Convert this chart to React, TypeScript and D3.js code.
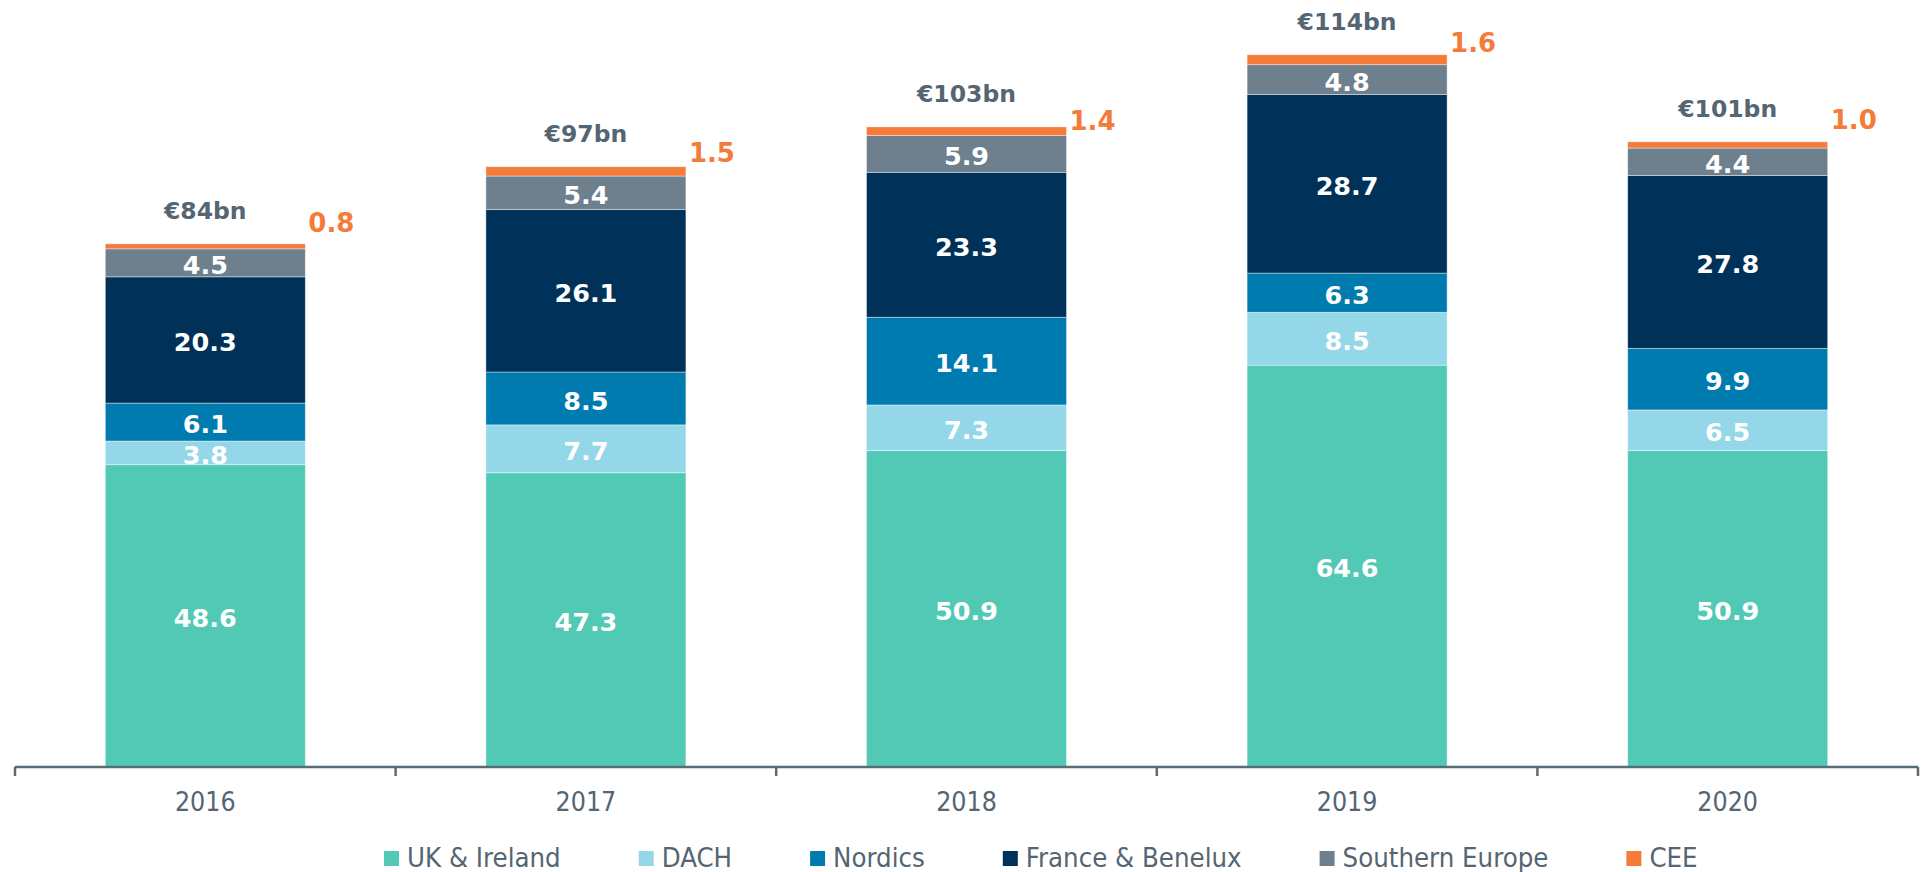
import React, { useEffect, useRef } from "react";
import * as d3 from "d3";

const years = ["2016", "2017", "2018", "2019", "2020"];
const seriesNames = ["UK & Ireland", "DACH", "Nordics", "France & Benelux", "Southern Europe", "CEE"];
const ukIreland = [48.6, 47.3, 50.9, 64.6, 50.9];
const dach = [3.8, 7.7, 7.3, 8.5, 6.5];
const nordics = [6.1, 8.5, 14.1, 6.3, 9.9];
const franceBenelux = [20.3, 26.1, 23.3, 28.7, 27.8];
const southernEurope = [4.5, 5.4, 5.9, 4.8, 4.4];
const cee = [0.8, 1.5, 1.4, 1.6, 1.0];
const totalLabels = ["€84bn", "€97bn", "€103bn", "€114bn", "€101bn"];
// label nudges for the CEE callouts (baseline distance above bar top)
const ceeLabelLift = [12, 4.5, -2.7, 2.5, 13];

const colors = ["#52c9b5", "#93d7e8", "#007bb0", "#003259", "#6e7f8e", "#f47b3a"];
const textGray = "#546573";

export default function App() {
  const ref = useRef<SVGSVGElement>(null);

  useEffect(() => {
    const svg = d3.select(ref.current);
    svg.selectAll("*").remove();

    const axisY = 767;
    const x = d3.scaleBand<string>().domain(years).range([15, 1918]).paddingInner(0.4745).paddingOuter(0.4745 / 2);
    const y = d3.scaleLinear().domain([0, 123.3]).range([axisY, 0]);

    const seriesData = [ukIreland, dach, nordics, franceBenelux, southernEurope, cee];
    const table = years.map((yr, i) => {
      const o: any = { year: yr };
      seriesNames.forEach((s, k) => (o[s] = seriesData[k][i]));
      return o;
    });
    const stack = d3.stack<any>().keys(seriesNames)(table);

    const boldFont = "'DejaVu Sans', Verdana, sans-serif";
    const condFont = "'DejaVu Sans Condensed', 'DejaVu Sans', sans-serif";

    const g = svg.append("g");
    stack.forEach((layer, k) => {
      const lg = g.append("g");
      lg.selectAll("rect")
        .data(layer)
        .join("rect")
        .attr("x", (d: any) => x(d.data.year)!)
        .attr("width", x.bandwidth())
        .attr("y", (d: any) => y(d[1]))
        .attr("height", (d: any) => y(d[0]) - y(d[1]))
        .attr("fill", colors[k])
        .attr("stroke", "#ffffff")
        .attr("stroke-opacity", 0.5)
        .attr("stroke-width", 0.8);

      if (k < 5) {
        lg.selectAll("text")
          .data(layer)
          .join("text")
          .attr("x", (d: any) => x(d.data.year)! + x.bandwidth() / 2)
          .attr("y", (d: any) => (y(d[0]) + y(d[1])) / 2 + 2)
          .attr("dy", "0.36em")
          .attr("text-anchor", "middle")
          .attr("fill", "#ffffff")
          .attr("font-family", boldFont)
          .attr("font-weight", "bold")
          .attr("font-size", 25.5)
          .text((d: any) => (d[1] - d[0]).toFixed(1));
      } else {
        lg.selectAll("text")
          .data(layer)
          .join("text")
          .attr("x", (d: any) => x(d.data.year)! + x.bandwidth() + 3)
          .attr("y", (d: any, i: number) => y(d[1]) - ceeLabelLift[i])
          .attr("text-anchor", "start")
          .attr("fill", colors[5])
          .attr("font-family", boldFont)
          .attr("font-weight", "bold")
          .attr("font-size", 26)
          .text((d: any) => (d[1] - d[0]).toFixed(1));
      }
    });

    // totals
    const top = stack[stack.length - 1];
    g.append("g")
      .selectAll("text")
      .data(top)
      .join("text")
      .attr("x", (d: any) => x(d.data.year)! + x.bandwidth() / 2)
      .attr("y", (d: any) => y(d[1]) - 24.5)
      .attr("text-anchor", "middle")
      .attr("fill", textGray)
      .attr("font-family", boldFont)
      .attr("font-weight", "bold")
      .attr("font-size", 23.5)
      .text((_d: any, i: number) => totalLabels[i]);

    // axis
    const ax = svg.append("g");
    const [r0, r1] = x.range();
    ax.append("line")
      .attr("x1", r0).attr("x2", r1)
      .attr("y1", axisY).attr("y2", axisY)
      .attr("stroke", "#5a6b78").attr("stroke-width", 2.5);
    const boundaries = years.map((_, i) => r0 + i * x.step()).concat([r1]);
    ax.selectAll("line.tick")
      .data(boundaries)
      .join("line")
      .attr("class", "tick")
      .attr("x1", (d) => d).attr("x2", (d) => d)
      .attr("y1", axisY).attr("y2", axisY + 9)
      .attr("stroke", "#5a6b78").attr("stroke-width", 2.5);
    ax.selectAll("text")
      .data(years)
      .join("text")
      .attr("x", (d) => x(d)! + x.bandwidth() / 2)
      .attr("y", 811)
      .attr("text-anchor", "middle")
      .attr("fill", textGray)
      .attr("font-family", condFont)
      .attr("font-stretch", "condensed")
      .attr("font-size", 26.5)
      .text((d) => d);

    // legend
    const leg = svg.append("g");
    let cx = 384;
    seriesNames.forEach((name, k) => {
      leg.append("rect")
        .attr("x", cx).attr("y", 851)
        .attr("width", 15).attr("height", 15)
        .attr("fill", colors[k]);
      const t = leg.append("text")
        .attr("x", cx + 23).attr("y", 867)
        .attr("fill", textGray)
        .attr("font-family", condFont)
        .attr("font-stretch", "condensed")
        .attr("font-size", 27.3)
        .text(name);
      const w = (t.node() as SVGTextElement).getComputedTextLength();
      cx = cx + 23 + w + 78;
    });
  }, []);

  return (
    <svg
      ref={ref}
      width={1923}
      height={872}
      style={{ position: "absolute", left: 0, top: 0, display: "block", background: "#ffffff" }}
    />
  );
}
